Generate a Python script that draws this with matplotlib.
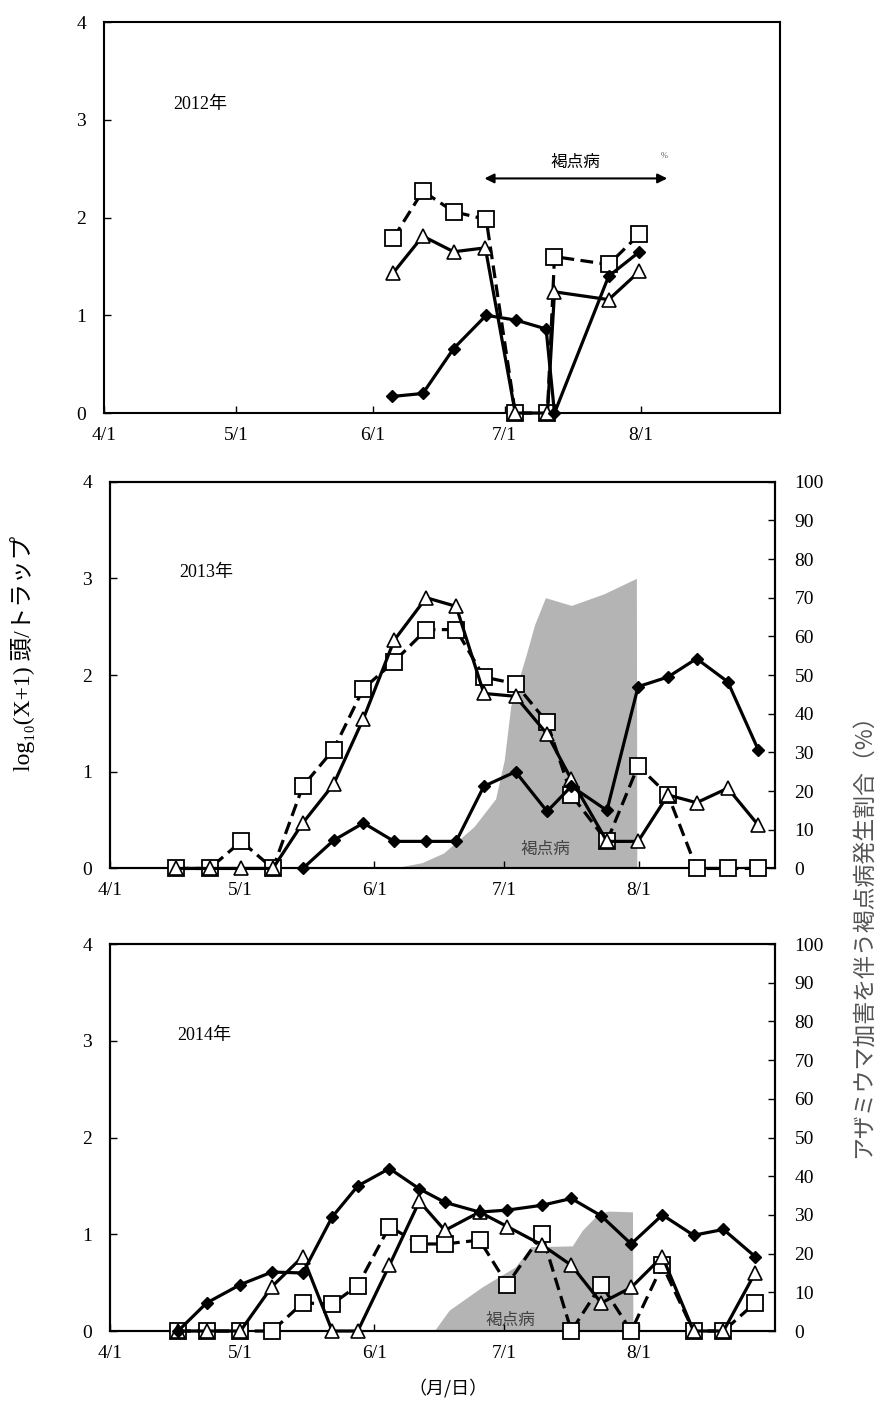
import matplotlib
matplotlib.use("Agg")
import matplotlib.pyplot as plt

# 日付は4/1からの経過日数
date_ticks = [0, 30, 61, 91, 122]
date_labels = ["4/1", "5/1", "6/1", "7/1", "8/1"]

# --- 2012 ---
d12_sq = [65.7, 72.4, 79.4, 86.8, 93.4, 100.7, 102.3, 114.6, 121.6]
v12_sq = [1.79, 2.27, 2.06, 1.98, 0, 0, 1.60, 1.52, 1.83]
d12_tri = [65.6, 72.4, 79.4, 86.6, 93.4, 100.7, 102.3, 114.6, 121.6]
v12_tri = [1.43, 1.81, 1.65, 1.69, 0, 0, 1.24, 1.16, 1.45]
d12_dia = [65.5, 72.4, 79.4, 86.8, 93.6, 100.4, 102.3, 114.6, 121.6]
v12_dia = [0.17, 0.20, 0.66, 1.00, 0.95, 0.86, 0, 1.40, 1.65]

# --- 2013 ---
d13 = [15.3, 23.0, 30.3, 37.6, 44.5, 51.6, 58.5, 65.6, 73.0, 79.9,
       86.3, 93.6, 100.9, 106.5, 114.7, 121.9, 128.8, 135.4, 142.6, 149.6]
v13_sq = [0, 0, 0.28, 0, 0.85, 1.23, 1.86, 2.14, 2.47, 2.47,
          1.98, 1.91, 1.51, 0.76, 0.28, 1.06, 0.76, 0, 0, 0]
v13_tri = [0, 0, 0, 0, 0.47, 0.87, 1.55, 2.36, 2.80, 2.71,
           1.81, 1.78, 1.39, 0.92, 0.28, 0.28, 0.76, 0.68, 0.83, 0.45]
d13_dia = d13[4:]
v13_dia = [0, 0.29, 0.47, 0.28, 0.28, 0.28, 0.85, 1.00, 0.59, 0.85,
           0.60, 1.88, 1.98, 2.17, 1.93, 1.23]
# 褐点病発生割合(%)
d13_dis = [65, 72, 77, 84, 89, 91, 92.5, 96, 98, 100.5, 106.5, 114, 121.5, 121.6]
p13_dis = [0, 1.5, 4, 10.8, 18, 28, 42, 55, 63, 70, 68, 71, 75, 0]

# --- 2014 ---
d14 = [15.7, 22.3, 30.1, 37.4, 44.5, 51.3, 57.2, 64.5, 71.4, 77.3,
       85.3, 91.7, 99.7, 106.5, 113.4, 120.3, 127.5, 134.7, 141.6, 148.9]
v14_sq = [0, 0, 0, 0, 0.29, 0.28, 0.47, 1.08, 0.90, 0.90,
          0.94, 0.48, 1.00, 0, 0.48, 0, 0.68, 0, 0, 0.29]
v14_tri = [0, 0, 0, 0.46, 0.77, 0, 0, 0.68, 1.34, 1.04,
           1.23, 1.08, 0.89, 0.68, 0.29, 0.45, 0.77, 0, 0, 0.60]
v14_dia = [0, 0.29, 0.48, 0.61, 0.60, 1.18, 1.50, 1.68, 1.47, 1.33,
           1.23, 1.25, 1.30, 1.37, 1.19, 0.90, 1.20, 0.99, 1.05, 0.77]
d14_dis = [74.8, 78.3, 85.9, 93.6, 97.1, 106.7, 109, 112.8, 115, 120.6, 120.7]
p14_dis = [0, 5.4, 11.4, 16.6, 21.8, 22, 26, 30.4, 31, 30.8, 0]

SERIF = ["Liberation Serif", "DejaVu Serif", "Noto Sans CJK JP"]
JP = ["Noto Sans CJK JP", "DejaVu Sans"]
XMAX = 153.5


def draw_series(ax, d_sq, v_sq, d_tri, v_tri, d_dia, v_dia):
    ax.plot(d_sq, v_sq, color="black", lw=2.3, dashes=(4, 2), marker="s",
            ms=11, mfc="white", mec="black", mew=1.3, zorder=3, clip_on=False)
    ax.plot(d_tri, v_tri, color="black", lw=2.3, marker="^",
            ms=10, mfc="white", mec="black", mew=1.2, zorder=4, clip_on=False)
    ax.plot(d_dia, v_dia, color="black", lw=2.3, marker="D",
            ms=6, mfc="black", mec="black", zorder=5, clip_on=False)


def style_axis(ax):
    ax.set_xlim(0, XMAX)
    ax.set_ylim(0, 4)
    ax.set_xticks(date_ticks)
    ax.set_xticklabels(date_labels)
    ax.set_yticks([0, 1, 2, 3, 4])
    ax.tick_params(direction="in", length=5, width=1, labelsize=14)
    ax.tick_params(axis="x", pad=10)
    ax.tick_params(axis="y", pad=13)
    for lab in ax.get_xticklabels() + ax.get_yticklabels():
        lab.set_family(SERIF)
    for sp in ax.spines.values():
        sp.set_linewidth(1.5)


def disease_axis(ax, d_dis, p_dis):
    ax2 = ax.twinx()
    ax2.fill_between(d_dis, p_dis, 0, color="#b4b4b4", lw=0)
    ax2.set_ylim(0, 100)
    ax2.set_yticks(range(0, 101, 10))
    ax2.tick_params(direction="in", length=5, width=1, labelsize=14, pad=14)
    for lab in ax2.get_yticklabels():
        lab.set_family(SERIF)
    for sp in ax2.spines.values():
        sp.set_linewidth(1.5)
    ax.set_zorder(ax2.get_zorder() + 1)
    ax.patch.set_visible(False)
    return ax2


fig = plt.figure(figsize=(8.82, 14.03), dpi=100)

# 2012
ax1 = fig.add_axes([0.1179, 0.7056, 0.7664, 0.2787])
draw_series(ax1, d12_sq, v12_sq, d12_tri, v12_tri, d12_dia, v12_dia)
style_axis(ax1)
ax1.text(21.9, 3.16, "2012年", family=SERIF, fontsize=13, ha="center", va="center")
ax1.annotate("", xy=(86.4, 2.40), xytext=(127.9, 2.40),
             arrowprops=dict(arrowstyle="<|-|>", color="black", lw=1.5,
                             mutation_scale=14, shrinkA=0, shrinkB=0))
ax1.text(107, 2.56, "褐点病", family=JP, fontsize=12, ha="center", va="center")
ax1.text(127.1, 2.63, "%", family=SERIF, fontsize=6, color="#555555",
         ha="center", va="center")

# 2013
ax2 = fig.add_axes([0.1247, 0.3810, 0.7540, 0.2757])
disease_axis(ax2, d13_dis, p13_dis)
draw_series(ax2, d13, v13_sq, d13, v13_tri, d13_dia, v13_dia)
style_axis(ax2)
ax2.text(22.3, 3.06, "2013年", family=SERIF, fontsize=13, ha="center", va="center")
ax2.text(100.5, 0.2, "褐点病", family=JP, fontsize=12, color="#444444",
         ha="center", va="center")

# 2014
ax3 = fig.add_axes([0.1247, 0.0513, 0.7540, 0.2758])
disease_axis(ax3, d14_dis, p14_dis)
draw_series(ax3, d14, v14_sq, d14, v14_tri, d14, v14_dia)
style_axis(ax3)
ax3.text(21.7, 3.06, "2014年", family=SERIF, fontsize=13, ha="center", va="center")
ax3.text(92.5, 0.11, "褐点病", family=JP, fontsize=12, color="#444444",
         ha="center", va="center")

fig.text(23 / 882, 1 - 653 / 1403, "log₁₀(X+1) 頭/トラップ", family=SERIF,
         fontsize=17, rotation=90, ha="center", va="center")
fig.text(864 / 882, 1 - 930 / 1403, "アザミウマ加害を伴う褐点病発生割合（%）",
         family=JP, fontsize=16.5, color="#555555", rotation=90,
         ha="center", va="center")
fig.text(448 / 882, 1 - 1388 / 1403, "（月/日）", family=JP, fontsize=13,
         ha="center", va="center")

fig.savefig("out.png", dpi=100)
